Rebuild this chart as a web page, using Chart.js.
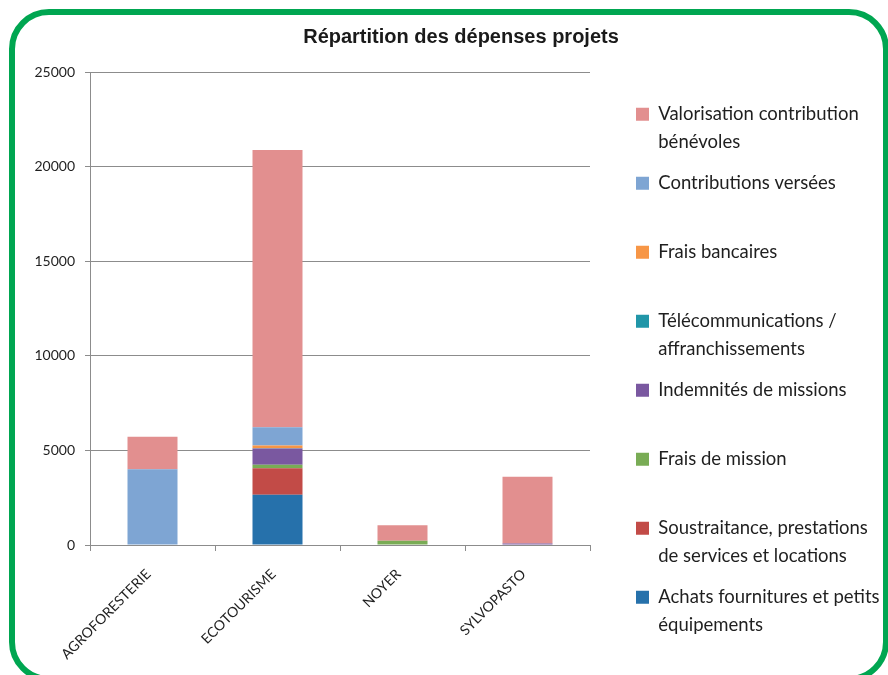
<!DOCTYPE html>
<html>
<head>
<meta charset="utf-8">
<script src="https://cdn.jsdelivr.net/npm/chart.js@4"></script>
<style>
  html, body { margin: 0; padding: 0; background: #ffffff; }
  #wrap { position: relative; width: 888px; height: 675px; overflow: hidden; }
  #frame { position: absolute; left: 9px; top: 9px; width: 880px; height: 673px; box-sizing: border-box;
           border: 6px solid #00a651; border-radius: 40px; }
  #c { position: absolute; left: 0; top: 0; }
</style>
</head>
<body>
<div id="wrap">
  <div id="frame"></div>
  <canvas id="c" width="888" height="675"></canvas>
</div>
<script>
// ---- Data ----
const categories = ["AGROFORESTERIE", "ECOTOURISME", "NOYER", "SYLVOPASTO"];

const seriesNames = [
  "Achats fournitures et petits équipements",
  "Soustraitance, prestations de services et locations",
  "Frais de mission",
  "Indemnités de missions",
  "Télécommunications / affranchissements",
  "Frais bancaires",
  "Contributions versées",
  "Valorisation contribution bénévoles"
];

const legendLines = [
  ["Achats fournitures et petits", "équipements"],
  ["Soustraitance, prestations", "de services et locations"],
  ["Frais de mission"],
  ["Indemnités de missions"],
  ["Télécommunications /", "affranchissements"],
  ["Frais bancaires"],
  ["Contributions versées"],
  ["Valorisation contribution", "bénévoles"]
];

const achats         = [0, 2650, 0, 0];
const soustraitance  = [0, 1410, 0, 0];
const fraisMission   = [0, 180, 230, 0];
const indemnites     = [0, 860, 0, 80];
const telecom        = [0, 20, 0, 0];
const fraisBancaires = [0, 140, 0, 0];
const contributions  = [4000, 970, 0, 0];
const valorisation   = [1720, 14650, 810, 3530];

const yTickValues = [0, 5000, 10000, 15000, 20000, 25000];

const seriesValues = [achats, soustraitance, fraisMission, indemnites, telecom, fraisBancaires, contributions, valorisation];
const seriesColors = ["#2671ab", "#c24b47", "#79ac55", "#7a58a0", "#2196a8", "#f79646", "#7ea5d3", "#e28f8f"];

// ---- Layout helper plugin ----
const legendPlacer = {
  id: 'legendPlacer',
  beforeLayout(chart) {
    const lg = chart.legend;
    if (lg && !lg._patchedFit) {
      const orig = lg.fit;
      lg.fit = function () { orig.call(this); this.width = 298; };
      lg._patchedFit = true;
    }
  },
  afterLayout(chart) {
    const lg = chart.legend;
    if (!lg) return;
    const dx = 33;
    lg.left += dx; lg.right += dx;
    lg.top = 92; lg.bottom = 700; lg.height = lg.bottom - lg.top;
  }
};

const datasets = seriesNames.map((name, i) => ({
  label: name,
  data: seriesValues[i],
  backgroundColor: seriesColors[i],
  borderWidth: 0,
  barPercentage: 0.5,
  categoryPercentage: 0.8
}));

new Chart(document.getElementById('c'), {
  type: 'bar',
  data: { labels: categories, datasets },
  plugins: [legendPlacer],
  options: {
    responsive: false,
    animation: false,
    devicePixelRatio: 1,
    layout: { padding: { left: 34, right: 0, top: 0, bottom: 0 } },
    plugins: {
      title: {
        display: true,
        text: "Répartition des dépenses projets",
        color: '#1a1a1a',
        font: { family: 'Liberation Sans', weight: 'bold', size: 20, lineHeight: 1.2 },
        padding: { top: 25, bottom: 23 }
      },
      legend: {
        display: true,
        position: 'right',
        align: 'start',
        reverse: true,
        labels: {
          boxWidth: 13,
          boxHeight: 13,
          padding: 13,
          color: '#1f1f1f',
          font: { family: 'Lato', size: 18.5, lineHeight: 28 / 18.5 },
          generateLabels(chart) {
            return chart.data.datasets.map((ds, i) => {
              const lines = legendLines[i].slice();
              while (lines.length < 2) lines.push("");
              return {
                text: lines,
                fillStyle: ds.backgroundColor,
                strokeStyle: ds.backgroundColor,
                lineWidth: 0,
                hidden: !chart.isDatasetVisible(i),
                datasetIndex: i,
                fontColor: '#1f1f1f'
              };
            });
          }
        }
      },
      tooltip: { enabled: false }
    },
    scales: {
      x: {
        stacked: true,
        afterFit(scale) { scale.height = 130; },
        grid: { offset: true, drawOnChartArea: false, drawTicks: true, tickLength: 6, color: '#8c8c8c' },
        border: { display: true, color: '#8c8c8c', width: 1 },
        ticks: {
          autoSkip: false,
          minRotation: 45,
          maxRotation: 45,
          padding: 15,
          labelOffset: -4,
          color: '#1f1f1f',
          font: { family: 'Lato', size: 14 }
        }
      },
      y: {
        stacked: true,
        min: 0,
        max: 25000,
        afterFit(scale) { scale.width = 56; },
        afterBuildTicks(scale) { scale.ticks = yTickValues.map(v => ({ value: v })); },
        grid: { color: '#8c8c8c', drawTicks: true, tickLength: 5 },
        border: { display: true, color: '#8c8c8c', width: 1 },
        ticks: {
          padding: 10,
          color: '#1f1f1f',
          font: { family: 'Lato', size: 14 },
          callback: (v) => String(v)
        }
      }
    }
  }
});
</script>
</body>
</html>
